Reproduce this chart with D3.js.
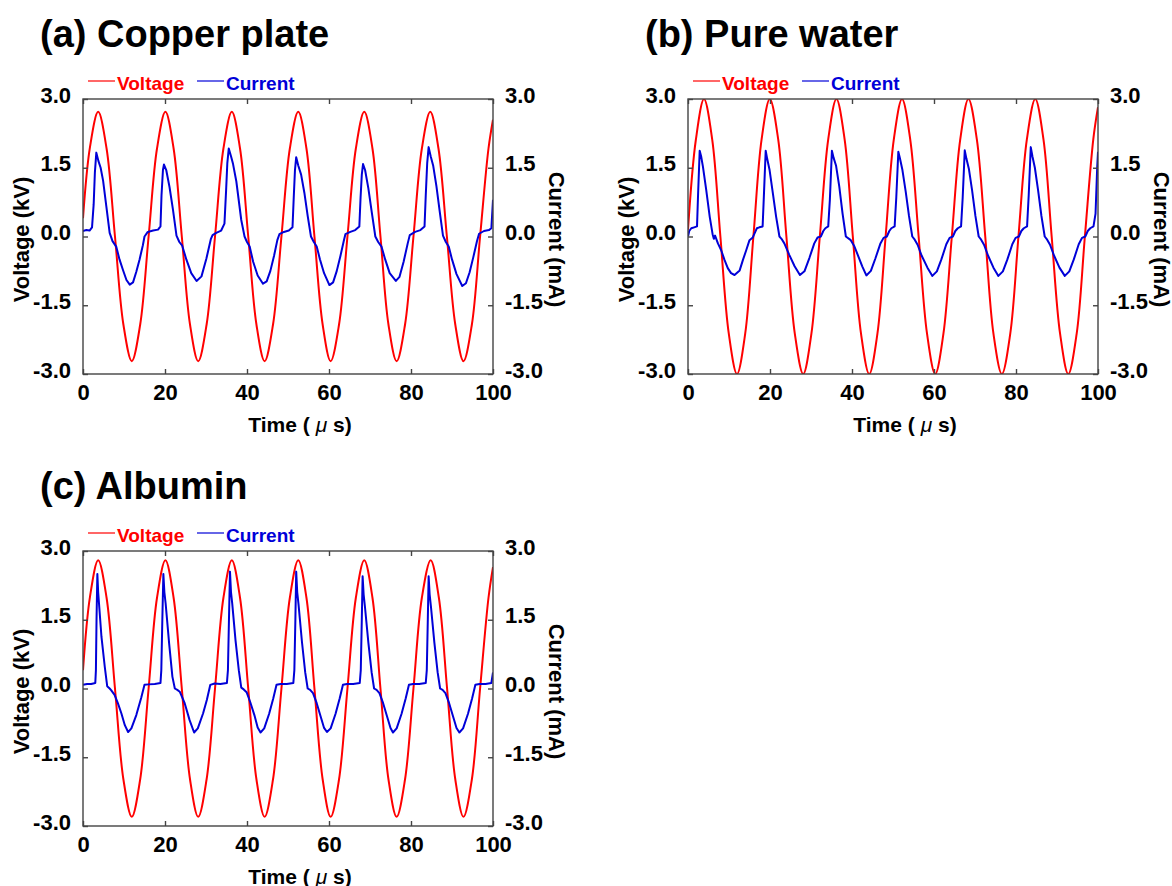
<!DOCTYPE html>
<meta charset="utf-8">
<head>
  <title>Voltage / current waveforms</title>
</head>

<style>
body {
  margin: 0;
  background: #fff;
}
svg text {
  font-family: "Liberation Sans", Arial, Helvetica, sans-serif;
  font-weight: bold;
}
</style>

<body>
  <div id="content">
    <svg width="1172" height="886"></svg>
  </div>

  <script src="https://cdnjs.cloudflare.com/ajax/libs/d3/7.8.5/d3.min.js"></script>

  <script>
var panelTitles = ['(a) Copper plate', '(b) Pure water', '(c) Albumin'];
var seriesNames = ['Voltage', 'Current'];
var timeTicks = [0, 20, 40, 60, 80, 100];
var yTicks = [-3, -1.5, 0, 1.5, 3];
var yTickLabels = ['-3.0', '-1.5', '0.0', '1.5', '3.0'];

// [time (us), kV]
var voltageA = [[0,0.4],[1.7,1.95],[3.7,2.72],[5.75,1.92],[7.8,0],[9.85,-1.92],[11.9,-2.72],
  [13.95,-1.92],[16,0],[18.05,1.92],[20.1,2.72],[22.1,1.92],[24.1,0],[26.1,-1.92],[28.1,-2.72],
  [30.15,-1.92],[32.2,0],[34.25,1.92],[36.3,2.72],[38.3,1.92],[40.3,0],[42.3,-1.92],[44.3,-2.72],
  [46.35,-1.92],[48.4,0],[50.45,1.92],[52.5,2.72],[54.5,1.92],[56.45,0],[58.45,-1.92],[60.4,-2.72],
  [62.45,-1.92],[64.5,0],[66.55,1.92],[68.6,2.72],[70.6,1.92],[72.55,0],[74.5,-1.92],[76.5,-2.72],
  [78.55,-1.92],[80.6,0],[82.65,1.92],[84.7,2.72],[86.7,1.92],[88.75,0],[90.8,-1.92],[92.8,-2.72],
  [94.85,-1.92],[96.85,0],[98.9,1.92],[100,2.55]];

// [time (us), mA]
var currentA = [[0,0.12],[0.8,0.14],[1.6,0.13],[2.2,0.2],[2.6,0.7],[2.9,1.4],[3.25,1.83],[3.75,1.65],
  [4.3,1.5],[4.9,1.22],[5.7,0.65],[6.5,0.08],[7.2,-0.1],[8.1,-0.22],[8.9,-0.5],[9.75,-0.73],
  [10.6,-0.95],[11.4,-1.05],[12.2,-1.0],[13.0,-0.77],[13.8,-0.5],[14.6,-0.19],[15.0,0.0],[15.8,0.1],
  [17.1,0.13],[18.3,0.15],[18.9,0.22],[19.15,0.9],[19.5,1.45],[19.75,1.57],[20.3,1.45],[21.1,1.08],
  [21.95,0.58],[22.8,0.02],[23.5,-0.12],[24.2,-0.2],[25.2,-0.5],[26.4,-0.8],[27.7,-0.97],[28.9,-0.87],
  [30.1,-0.48],[31.2,-0.05],[31.6,0.03],[32.5,0.08],[33.7,0.13],[34.5,0.28],[34.9,1.0],[35.2,1.6],
  [35.55,1.92],[36.1,1.75],[36.6,1.58],[37.4,1.2],[38.6,0.36],[39.4,0.0],[40.0,-0.12],[40.65,-0.22],
  [41.5,-0.55],[42.6,-0.85],[43.9,-1.03],[44.8,-0.98],[45.7,-0.75],[46.6,-0.42],[47.4,-0.08],[47.9,0.05],
  [49.0,0.1],[50.2,0.13],[51.1,0.2],[51.4,0.85],[51.7,1.45],[52.0,1.73],[52.5,1.55],[53.2,1.35],
  [54.0,0.95],[54.8,0.45],[55.6,0.0],[56.3,-0.12],[57.0,-0.22],[57.8,-0.5],[58.8,-0.8],[60.1,-1.06],
  [61.0,-1.0],[61.9,-0.75],[62.8,-0.42],[63.6,-0.1],[64.0,0.05],[65.2,0.1],[66.4,0.14],[67.4,0.22],
  [67.7,0.85],[68.0,1.35],[68.3,1.58],[68.8,1.45],[69.6,1.05],[70.4,0.55],[71.3,0.0],[72.0,-0.12],
  [72.8,-0.22],[73.7,-0.5],[74.8,-0.8],[76.3,-0.97],[77.2,-0.88],[78.2,-0.55],[79.2,-0.15],[79.7,0.03],
  [81.0,0.1],[82.3,0.14],[83.3,0.22],[83.6,0.9],[83.95,1.6],[84.3,1.95],[84.8,1.75],[85.4,1.55],
  [86.2,1.1],[87.0,0.55],[87.8,0.02],[88.5,-0.12],[89.2,-0.22],[90.0,-0.5],[91.1,-0.82],[92.5,-1.08],
  [93.4,-1.02],[94.3,-0.78],[95.2,-0.45],[96.1,-0.1],[96.6,0.06],[97.8,0.12],[99.0,0.14],[99.6,0.18],
  [100,0.8]];

var voltageB = [[0,0.15],[1.9,2.1],[3.9,3.0],[5.9,2.12],[7.9,0],[9.95,-2.12],[11.95,-3.0],
  [13.95,-2.12],[15.95,0],[17.95,2.12],[19.95,3.0],[22.0,2.12],[24.0,0],[26.05,-2.12],[28.1,-3.0],
  [30.1,-2.12],[32.15,0],[34.2,2.12],[36.2,3.0],[38.2,2.12],[40.2,0],[42.2,-2.12],[44.2,-3.0],
  [46.2,-2.12],[48.2,0],[50.2,2.12],[52.2,3.0],[54.2,2.12],[56.25,0],[58.3,-2.12],[60.3,-3.0],
  [62.3,-2.12],[64.35,0],[66.4,2.12],[68.4,3.0],[70.45,2.12],[72.5,0],[74.5,-2.12],[76.55,-3.0],
  [78.6,-2.12],[80.6,0],[82.65,2.12],[84.7,3.0],[86.7,2.12],[88.7,0],[90.75,-2.12],[92.75,-3.0],
  [94.8,-2.12],[96.8,0],[98.85,2.12],[100,2.82]];

var currentB = [[0,0.0],[0.3,0.12],[0.8,0.18],[1.5,0.2],[2.2,0.22],[2.45,0.9],[2.85,1.87],[3.2,1.75],
  [3.65,1.52],[4.45,1.01],[5.3,0.43],[6.0,0.05],[6.3,-0.05],[6.6,0.02],[7.3,-0.15],[8.1,-0.3],
  [8.9,-0.51],[9.7,-0.69],[10.5,-0.8],[11.35,-0.84],[12.6,-0.74],[13.4,-0.51],[14.2,-0.3],[15.0,-0.08],
  [15.8,-0.02],[16.4,0.1],[16.8,0.18],[17.4,0.2],[18.2,0.22],[18.5,0.87],[18.95,1.87],[19.3,1.7],
  [19.9,1.45],[20.7,0.94],[21.5,0.43],[22.3,0.0],[22.8,-0.05],[23.5,-0.15],[24.7,-0.4],[26.0,-0.65],
  [27.3,-0.84],[28.4,-0.76],[29.6,-0.47],[30.8,-0.15],[31.6,-0.02],[32.4,0.0],[33.0,0.12],[33.5,0.18],
  [34.2,0.22],[34.6,0.8],[35.1,1.87],[35.5,1.72],[36.1,1.55],[36.9,1.09],[37.7,0.5],[38.5,0.0],
  [39.7,-0.08],[40.5,-0.2],[41.4,-0.4],[42.5,-0.65],[43.5,-0.85],[44.6,-0.75],[45.7,-0.48],[46.9,-0.16],
  [47.7,-0.03],[48.5,0.0],[49.1,0.12],[49.6,0.18],[50.4,0.22],[50.8,0.85],[51.3,1.85],[51.7,1.7],
  [52.3,1.45],[53.1,0.98],[53.9,0.45],[54.7,0.0],[55.3,-0.07],[56.0,-0.18],[57.0,-0.42],[58.4,-0.68],
  [59.6,-0.86],[60.7,-0.76],[61.8,-0.5],[63.0,-0.17],[63.8,-0.03],[64.6,0.0],[65.2,0.12],[65.8,0.18],
  [66.6,0.22],[67.0,0.85],[67.5,1.88],[67.9,1.7],[68.5,1.48],[69.3,1.0],[70.1,0.45],[70.9,0.0],
  [71.5,-0.07],[72.2,-0.18],[73.2,-0.42],[74.5,-0.68],[75.7,-0.86],[76.8,-0.76],[77.9,-0.5],[79.1,-0.17],
  [79.9,-0.03],[80.7,0.0],[81.3,0.12],[81.9,0.18],[82.7,0.22],[83.1,0.9],[83.6,1.95],[84.0,1.75],
  [84.6,1.5],[85.4,1.0],[86.2,0.45],[87.0,0.0],[87.6,-0.07],[88.3,-0.18],[89.3,-0.42],[90.6,-0.68],
  [91.9,-0.86],[93.0,-0.76],[94.1,-0.5],[95.3,-0.17],[96.1,-0.03],[96.9,0.0],[97.5,0.12],[98.1,0.18],
  [98.9,0.22],[99.4,0.5],[99.8,1.5],[100,1.85]];

var voltageC = [[0,0.4],[1.7,2.0],[3.7,2.8],[5.75,1.98],[7.8,0],[9.85,-1.98],[11.9,-2.8],
  [13.95,-1.98],[16,0],[18.05,1.98],[20.1,2.8],[22.1,1.98],[24.1,0],[26.1,-1.98],[28.1,-2.8],
  [30.15,-1.98],[32.2,0],[34.25,1.98],[36.3,2.8],[38.3,1.98],[40.3,0],[42.3,-1.98],[44.3,-2.8],
  [46.35,-1.98],[48.4,0],[50.45,1.98],[52.5,2.8],[54.5,1.98],[56.45,0],[58.45,-1.98],[60.4,-2.8],
  [62.45,-1.98],[64.5,0],[66.55,1.98],[68.6,2.8],[70.6,1.98],[72.55,0],[74.5,-1.98],[76.5,-2.8],
  [78.55,-1.98],[80.6,0],[82.65,1.98],[84.8,2.8],[86.8,1.98],[88.8,0],[90.8,-1.98],[92.8,-2.8],
  [94.85,-1.98],[96.85,0],[98.9,1.98],[100,2.65]];

var currentC = [[0,0.08],[1.0,0.1],[2.0,0.1],[3.0,0.12],[3.15,0.4],[3.3,1.5],[3.5,2.5],[3.7,2.1],
  [3.9,1.86],[4.5,1.13],[5.3,0.48],[5.9,0.05],[6.5,0.0],[6.9,-0.04],[7.7,-0.14],[8.5,-0.32],
  [9.35,-0.54],[10.2,-0.8],[11.0,-0.95],[11.8,-0.87],[13.0,-0.58],[14.2,-0.2],[15.0,0.08],[16.0,0.09],
  [17.5,0.1],[18.9,0.12],[19.1,0.4],[19.35,1.5],[19.6,2.5],[19.85,2.1],[20.15,1.86],[21.0,0.99],
  [21.8,0.26],[22.4,0.0],[23.0,-0.03],[23.6,-0.07],[24.8,-0.32],[26.0,-0.69],[27.1,-0.96],[28.0,-0.87],
  [29.3,-0.54],[30.2,-0.25],[31.05,0.08],[32.1,0.11],[33.5,0.1],[35.1,0.12],[35.35,0.4],[35.6,1.5],
  [35.85,2.55],[36.1,2.1],[36.4,1.85],[37.2,1.05],[38.0,0.4],[38.6,0.02],[39.2,-0.02],[39.9,-0.08],
  [40.8,-0.3],[41.8,-0.58],[42.6,-0.85],[43.3,-0.96],[44.2,-0.87],[45.4,-0.55],[46.4,-0.22],[47.2,0.08],
  [48.2,0.1],[49.7,0.1],[51.3,0.12],[51.55,0.4],[51.8,1.5],[52.0,2.55],[52.25,2.1],[52.55,1.85],
  [53.4,1.02],[54.2,0.35],[54.8,0.0],[55.4,-0.03],[56.1,-0.1],[57.0,-0.32],[58.0,-0.62],[58.8,-0.86],
  [59.5,-0.95],[60.4,-0.87],[61.6,-0.55],[62.6,-0.22],[63.4,0.08],[64.4,0.1],[65.9,0.1],[67.5,0.12],
  [67.75,0.4],[68.0,1.5],[68.2,2.45],[68.45,2.05],[68.75,1.8],[69.6,1.0],[70.4,0.35],[71.0,0.0],
  [71.6,-0.03],[72.3,-0.1],[73.2,-0.32],[74.2,-0.62],[75.0,-0.86],[75.6,-0.96],[76.5,-0.87],[77.7,-0.55],
  [78.7,-0.22],[79.5,0.08],[80.5,0.1],[82.0,0.1],[83.6,0.12],[83.85,0.4],[84.1,1.5],[84.3,2.45],
  [84.55,2.05],[84.85,1.8],[85.7,1.0],[86.5,0.35],[87.1,0.0],[87.7,-0.03],[88.4,-0.1],[89.3,-0.32],
  [90.3,-0.62],[91.1,-0.86],[91.8,-0.96],[92.7,-0.87],[93.9,-0.55],[94.9,-0.22],[95.7,0.08],[96.7,0.1],
  [98.2,0.1],[99.6,0.12],[100,0.35]];

var svg = d3.select('#content svg');

var RED = '#ff0000';
var BLUE = '#0000d8';

var panels = [
  {title: panelTitles[0], x: 83, y: 99, voltage: voltageA, current: currentA},
  {title: panelTitles[1], x: 688, y: 99, voltage: voltageB, current: currentB},
  {title: panelTitles[2], x: 83, y: 551, voltage: voltageC, current: currentC}
];

var W = 410, H = 275;

function tickLabel(d) {
  return yTickLabels[yTicks.indexOf(d)];
}

panels.forEach(function(p, i) {
  var g = svg.append('g').attr('transform', 'translate(' + p.x + ',' + p.y + ')');

  var x = d3.scaleLinear().domain([0, 100]).range([0, W]);
  var yV = d3.scaleLinear().domain([-3, 3]).range([H, 0]);
  var yI = d3.scaleLinear().domain([-3, 3]).range([H, 0]);

  // title
  g.append('text')
    .attr('x', -43)
    .attr('y', -52)
    .attr('font-size', 38)
    .text(p.title);

  // legend
  var leg = g.append('g').attr('transform', 'translate(0,-18)');
  [[RED, 5], [BLUE, 114]].forEach(function(s, k) {
    leg.append('line')
      .attr('x1', s[1]).attr('x2', s[1] + 27)
      .attr('y1', 0).attr('y2', 0)
      .attr('stroke', s[0]).attr('stroke-width', 1.2);
    leg.append('text')
      .attr('x', s[1] + 29)
      .attr('y', 9)
      .attr('font-size', 19)
      .attr('fill', s[0])
      .text(seriesNames[k]);
  });

  // clip
  var clipId = 'clip' + i;
  g.append('clipPath').attr('id', clipId)
    .append('rect').attr('width', W).attr('height', H);

  var lineV = d3.line()
    .x(function(d) { return x(d[0]); })
    .y(function(d) { return yV(d[1]); })
    .curve(d3.curveCatmullRom);
  var lineI = d3.line()
    .x(function(d) { return x(d[0]); })
    .y(function(d) { return yI(d[1]); });

  var plot = g.append('g').attr('clip-path', 'url(#' + clipId + ')');
  plot.append('path')
    .datum(p.voltage)
    .attr('d', lineV)
    .attr('fill', 'none')
    .attr('stroke', RED)
    .attr('stroke-width', 2);
  plot.append('path')
    .datum(p.current)
    .attr('d', lineI)
    .attr('fill', 'none')
    .attr('stroke', BLUE)
    .attr('stroke-width', 2)
    .attr('stroke-linejoin', 'round');

  // frame
  g.append('rect')
    .attr('width', W).attr('height', H)
    .attr('fill', 'none')
    .attr('stroke', '#444')
    .attr('stroke-width', 1.4);

  // axes
  var axB = g.append('g').attr('transform', 'translate(0,' + H + ')')
    .call(d3.axisBottom(x).tickValues(timeTicks).tickSize(-5).tickPadding(10).tickFormat(d3.format('d')));
  var axT = g.append('g')
    .call(d3.axisTop(x).tickValues(timeTicks).tickSize(-5).tickFormat(''));
  var axL = g.append('g')
    .call(d3.axisLeft(yV).tickValues(yTicks).tickSize(-5).tickPadding(12).tickFormat(tickLabel));
  var axR = g.append('g').attr('transform', 'translate(' + W + ',0)')
    .call(d3.axisRight(yI).tickValues(yTicks).tickSize(-5).tickPadding(12).tickFormat(tickLabel));

  [axB, axT, axL, axR].forEach(function(a) {
    a.select('.domain').remove();
    a.selectAll('line').attr('stroke', '#444').attr('stroke-width', 1.4);
    a.selectAll('text')
      .attr('fill', '#000')
      .attr('font-size', 22)
      .attr('font-family', null);
  });
  axL.selectAll('text').attr('dy', '0.14em');
  axR.selectAll('text').attr('dy', '0.14em');

  // axis titles
  var xt = g.append('text')
    .attr('x', 217)
    .attr('y', H + 58)
    .attr('text-anchor', 'middle')
    .attr('font-size', 21);
  xt.append('tspan').text('Time ( ');
  xt.append('tspan').attr('font-style', 'italic').attr('font-weight', 'normal').text('\u03bc');
  xt.append('tspan').text(' s)');

  g.append('text')
    .attr('transform', 'translate(-54,' + (H / 2 + 3) + ') rotate(-90)')
    .attr('text-anchor', 'middle')
    .attr('font-size', 22)
    .text('Voltage (kV)');

  g.append('text')
    .attr('transform', 'translate(' + (W + 56) + ',' + (H / 2 + 3) + ') rotate(90)')
    .attr('text-anchor', 'middle')
    .attr('font-size', 22)
    .text('Current (mA)');
});
  </script>
</body>
</html>
